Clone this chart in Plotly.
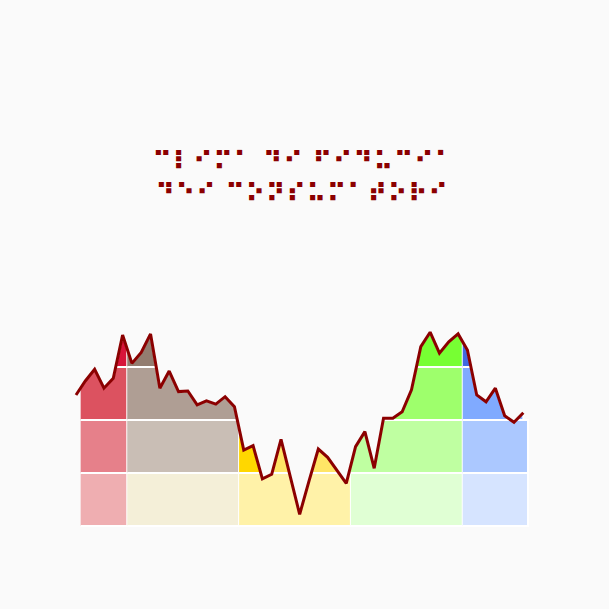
import numpy as np
import plotly.graph_objects as go

# values (one per step)
vals = [61.8, 68.4, 73.9, 65.0, 69.7, 90.1, 76.7, 81.9, 90.6, 65.0,
        73.1, 63.4, 63.7, 57.1, 59.0, 57.5, 61.0, 56.3, 35.8, 37.9,
        22.2, 24.4, 40.9, 23.6, 5.5, 21.2, 36.3, 32.4, 26.4, 20.1,
        37.4, 44.5, 27.2, 50.8, 50.8, 53.9, 64.2, 84.6, 91.4, 81.5,
        86.9, 90.6, 83.0, 61.8, 58.6, 65.0, 52.0, 48.9, 53.4]
xs = np.arange(len(vals), dtype=float)

# colour segments along x and value bands
seg_edges = [0.5, 5.5, 17.5, 29.5, 41.5, 48.5]
band_levels = [0, 25, 50, 75, 1000]
seg_colors = [
    ["#EFAEB1", "#E6808A", "#DC5260", "#D7143A"],
    ["#F4EFD8", "#C9BEB5", "#AF9E94", "#937D70"],
    ["#FFF2A8", "#FFE566", "#FFE566", "#FFD700"],
    ["#E0FFD4", "#BFFFA1", "#9EFF6C", "#77FF33"],
    ["#D6E4FF", "#ABC8FF", "#80AAFF", "#4169E1"],
]
# the yellow middle band is gold on its left part
yellow_split = 20.5

title_lines = ["⠉⠇⠊⠍⠁ ⠙⠊ ⠋⠊⠙⠥⠉⠊⠁", "⠙⠑⠊ ⠉⠕⠝⠎⠥⠍⠁⠞⠕⠗⠊"]

y = np.array(vals)


def cell_shape(x0, x1, lo, hi):
    if lo >= 50:
        x1 = min(x1, xs[-1])
    pts = [x0, x1] + [v for v in xs if x0 < v < x1]
    for i in range(len(xs) - 1):
        ya, yb = y[i], y[i + 1]
        for lev in (lo, hi):
            if (ya - lev) * (yb - lev) < 0:
                xc = xs[i] + (lev - ya) / (yb - ya)
                if x0 < xc < x1:
                    pts.append(xc)
    pts = np.unique(pts)
    yv = np.interp(pts, xs, y)
    top = np.minimum(yv, hi)
    px, py = [], []
    k = 0
    n = len(pts)
    above = lambda j: np.interp((pts[j] + pts[j + 1]) / 2, xs, y) > lo
    while k < n - 1:
        if not above(k):
            k += 1
            continue
        a = k
        while k < n - 1 and above(k):
            k += 1
        b = k
        px += list(pts[a:b + 1]) + list(pts[a:b + 1][::-1]) + [None]
        py += list(top[a:b + 1]) + [lo] * (b - a + 1) + [None]
    return px, py


cells = []
for s in range(len(seg_colors)):
    for b in range(4):
        x0, x1 = seg_edges[s], seg_edges[s + 1]
        if s == 2 and b == 1:
            cells.append((x0, yellow_split, b, "#FFD700"))
            cells.append((yellow_split, x1, b, seg_colors[s][b]))
        else:
            cells.append((x0, x1, b, seg_colors[s][b]))

fig = go.Figure()
for x0, x1, b, col in cells:
    px, py = cell_shape(x0, x1, band_levels[b], band_levels[b + 1])
    if not px:
        continue
    fig.add_trace(go.Scatter(x=px, y=py, mode="lines", fill="toself",
                             fillcolor=col, line=dict(color="white", width=2),
                             hoverinfo="skip"))

fig.add_trace(go.Scatter(x=xs, y=vals, mode="lines",
                         line=dict(color="#8B0000", width=3)))

# braille title, two lines
for txt, tx, ty in [(title_lines[0], 0.4966, 1.580), (title_lines[1], 0.4935, 1.450)]:
    fig.add_annotation(text=txt, x=tx, y=ty, xref="paper", yref="paper",
                       xanchor="center", yanchor="middle", showarrow=False,
                       height=29,
                       font=dict(family="DejaVu Sans", size=26, color="#8B0000",
                                 weight="bold"))

fig.update_layout(
    width=609, height=609,
    paper_bgcolor="#FAFAFA", plot_bgcolor="#FAFAFA",
    margin=dict(l=70, r=69, t=300, b=69),
    showlegend=False,
)
fig.update_xaxes(range=[-0.644, 49.79], visible=False)
fig.update_yaxes(range=[-6.6, 106.6], visible=False)

fig.write_html("out.html", config={"displayModeBar": False},
               post_script="document.body.style.margin='0';"
               "document.body.style.background='#FAFAFA';")
